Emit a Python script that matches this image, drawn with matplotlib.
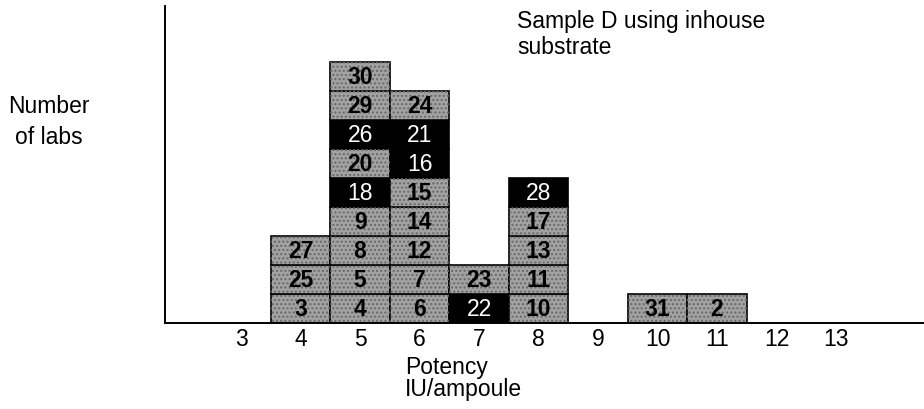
import matplotlib.pyplot as plt

plt.rcParams['font.family'] = ['Liberation Sans', 'DejaVu Sans']
plt.rcParams['hatch.linewidth'] = 1.0

# lab numbers stacked in each potency column, bottom to top
potency = [4, 5, 6, 7, 8, 10, 11]
labs_4 = [3, 25, 27]
labs_5 = [4, 5, 8, 9, 18, 20, 26, 29, 30]
labs_6 = [6, 7, 12, 14, 15, 16, 21, 24]
labs_7 = [22, 23]
labs_8 = [10, 11, 13, 17, 28]
labs_10 = [31]
labs_11 = [2]
columns = [labs_4, labs_5, labs_6, labs_7, labs_8, labs_10, labs_11]

# labs drawn as black boxes (white text)
black_labs = [16, 18, 21, 22, 26, 28]

tick_values = list(range(3, 14))

fig = plt.figure(figsize=(9.24, 4.10), dpi=100)
ax = fig.add_axes([165 / 924, 1 - 324 / 410, 1 - 165 / 924, (324 - 7) / 410])

grey = '#a2a2a2'
for x, labs in zip(potency, columns):
    for level, lab in enumerate(labs):
        dark = lab in black_labs
        ax.bar(x, 1, bottom=level, width=1, color='black' if dark else grey,
               edgecolor='black', linewidth=1.2, zorder=2)
        if not dark:
            # stipple texture of the scanned boxes
            ax.bar(x, 1, bottom=level, width=1, color='none', edgecolor='#686868',
                   hatch='....', linewidth=0, zorder=2.5)
        ax.text(x, level + 0.5, str(lab), ha='center', va='center', fontsize=16.5,
                color='white' if dark else 'black',
                fontweight='normal' if dark else 'bold', zorder=3)

ax.set_xlim(1.72, 14.48)
ax.set_ylim(0, 10.93)
ax.set_xticks(tick_values)
ax.set_yticks([])
ax.tick_params(axis='x', length=0, pad=3, labelsize=16.5)
for s in ['top', 'right']:
    ax.spines[s].set_visible(False)
for s in ['left', 'bottom']:
    ax.spines[s].set_linewidth(1.4)

fig.text(49 / 924, 1 - 122 / 410, 'Number\nof labs', ha='center', va='center',
         fontsize=16.5, linespacing=1.4)
fig.text(405 / 924, 1 - 356 / 410, 'Potency\nIU/ampoule', ha='left', va='top',
         fontsize=16.5, linespacing=0.94)
fig.text(517 / 924, 1 - 10 / 410, 'Sample D using inhouse\nsubstrate', ha='left',
         va='top', fontsize=16.5, linespacing=1.17)

fig.savefig('out.png', dpi=100)
